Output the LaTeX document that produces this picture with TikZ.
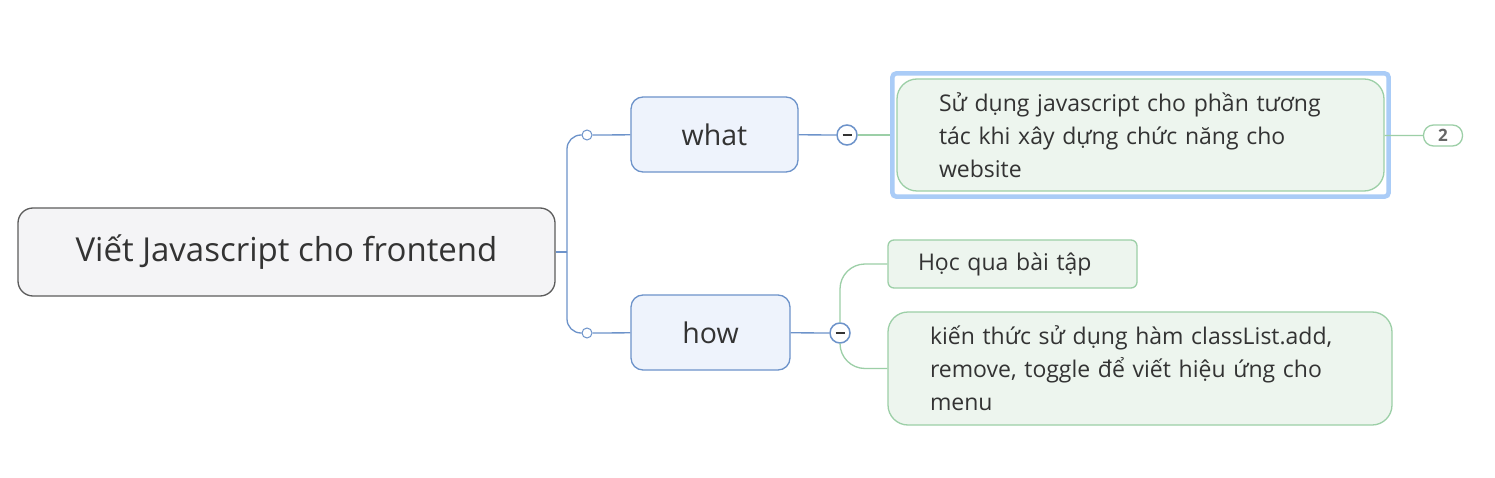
\documentclass[tikz,border=0pt]{standalone}
\usepackage{fontspec}
\setmainfont{Open Sans}
\usetikzlibrary{positioning, fit}
\definecolor{linkblue}{HTML}{6D93CA}
\definecolor{topicblue}{HTML}{EEF3FC}
\definecolor{rootgray}{HTML}{F4F4F6}
\definecolor{rootedge}{HTML}{5C5C5C}
\definecolor{leafgreen}{HTML}{EDF5EE}
\definecolor{leafedge}{HTML}{9CCFA7}
\definecolor{selblue}{HTML}{AACCF7}
\definecolor{inkgray}{HTML}{333333}

\begin{document}
\begin{tikzpicture}[x=1pt, y=-1pt,
  rootbox/.style={draw=rootedge, fill=rootgray, line width=1.3pt, rounded corners=15pt,
    text=inkgray, font=\fontsize{33}{40}\selectfont},
  topicbox/.style={draw=linkblue, fill=topicblue, line width=1.3pt, rounded corners=12pt,
    text=inkgray, font=\fontsize{28.5}{34}\selectfont},
  leafbox/.style={draw=leafedge, fill=leafgreen, line width=1.3pt, rounded corners=20pt,
    text=inkgray, align=left, font=\fontsize{23}{33}\selectfont},
  knob/.style={circle, draw=linkblue, fill=white, line width=1pt, minimum size=10pt, inner sep=0pt},
  foldknob/.style={circle, draw=linkblue, fill=white, line width=1.5pt, minimum size=20pt, inner sep=0pt,
    path picture={\draw[inkgray, line width=2pt] ([xshift=-4.5pt]path picture bounding box.center)
      -- ([xshift=4.5pt]path picture bounding box.center);}},
  selframe/.style={draw=selblue, line width=4.5pt, rounded corners=4pt},
  countpill/.style={draw=leafedge, fill=white, line width=1.3pt, rounded corners=10pt,
    minimum width=39pt, minimum height=21pt, inner sep=0pt, text=inkgray!75,
    font=\fontsize{17}{17}\selectfont\bfseries},
  blueline/.style={draw=linkblue, line width=1.3pt},
  greenline/.style={draw=leafedge, line width=1.3pt},
]

% Background
\fill[white] (0,0) rectangle (1495,478);
\useasboundingbox (0,0) rectangle (1495,478);

% Central topic
\node[rootbox, minimum width=537pt, minimum height=88pt] (root) at (286.5,252) {Viết Javascript cho frontend};

% Main branches
\node[knob] (whatknob) at (587,135) {};
\node[knob] (howknob) at (587,333) {};
\node[topicbox, minimum width=167pt, minimum height=75pt] (what) at (714.5,134.5) {what};
\node[topicbox, minimum width=159pt, minimum height=75pt] (how) at (710.5,332.5) {how};
\node[foldknob] (whatfold) at (847,135) {};
\node[foldknob] (howfold) at (840,333) {};

% Leaves of "what"
\node[leafbox, inner xsep=42pt, text width=403pt, minimum height=112pt] (usage) at (1140.5,135)
  {Sử dụng javascript cho phần tương\\tác khi xây dựng chức năng cho\\website};
\node[selframe, fit=(usage), inner xsep=4pt, inner ysep=5pt] (usagesel) {};
\node[countpill] (count) at (1443,135.5) {2};

% Leaves of "how"
\node[leafbox, rounded corners=6pt, inner xsep=30pt, text width=189pt, minimum height=48pt] (hoc) at (1012.5,264)
  {Học qua bài tập};
\node[leafbox, inner xsep=42pt, text width=420pt, minimum height=113pt] (kien) at (1140,368.5)
  {kiến thức sử dụng hàm classList.add,\\remove, toggle để viết hiệu ứng cho\\menu};

% Connectors
\coordinate (spine) at (567,252);
\draw[blueline] (root) -- (spine);
\draw[blueline, rounded corners=14pt] (spine) |- (whatknob);
\draw[blueline, rounded corners=14pt] (spine) |- (howknob);
\draw[blueline] (whatknob) -- (what);
\draw[blueline] (howknob) -- (how);
\draw[blueline] (what) -- (whatfold);
\draw[blueline] (how) -- (howfold);
\draw[greenline] (whatfold) -- (usagesel);
\draw[greenline] (usage) -- (count);
\draw[greenline, rounded corners=25pt] (howfold) |- (hoc);
\draw[greenline, rounded corners=25pt] (howfold) |- (kien);

\end{tikzpicture}
\end{document}
